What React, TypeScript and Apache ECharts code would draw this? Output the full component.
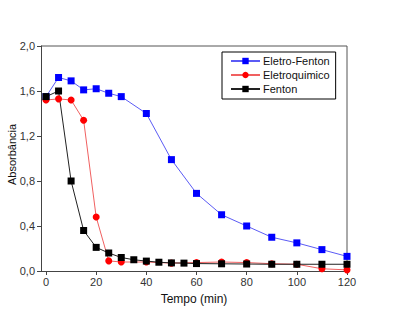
import React, { useEffect, useRef } from "react";
import * as echarts from "echarts";

const timesEF = [0, 5, 10, 15, 20, 25, 30, 40, 50, 60, 70, 80, 90, 100, 110, 120];
const eletroFenton = [1.55, 1.72, 1.69, 1.61, 1.62, 1.58, 1.55, 1.4, 0.99, 0.69, 0.5, 0.4, 0.3, 0.25, 0.19, 0.13];

const timesEQ = [0, 5, 10, 15, 20, 25, 30, 40, 50, 60, 70, 80, 90, 100, 110, 120];
const eletroquimico = [1.52, 1.53, 1.52, 1.34, 0.48, 0.09, 0.08, 0.08, 0.07, 0.075, 0.08, 0.075, 0.065, 0.06, 0.02, 0.01];

const timesF = [0, 5, 10, 15, 20, 25, 30, 35, 40, 45, 50, 55, 60, 70, 80, 90, 100, 110, 120];
const fenton = [1.55, 1.6, 0.8, 0.36, 0.21, 0.16, 0.12, 0.1, 0.088, 0.078, 0.072, 0.07, 0.066, 0.064, 0.062, 0.06, 0.06, 0.06, 0.06];

const xTicks = [0, 20, 40, 60, 80, 100, 120];

const zip = (xs: number[], ys: number[]) => xs.map((x, i) => [x, ys[i]]);

export default function App() {
  const ref = useRef<HTMLDivElement>(null);
  useEffect(() => {
    if (!ref.current) return;
    const chart = echarts.init(ref.current, null, { renderer: "svg" });
    const font = "Liberation Sans, Arial, sans-serif";
    chart.setOption({
      animation: false,
      textStyle: { fontFamily: font },
      grid: { left: 41, right: 49, top: 46, bottom: 60, outerBoundsMode: "none", containLabel: false },
      legend: {
        orient: "vertical",
        left: 222,
        top: 52,
        width: 119,
        padding: [3, 6, 4, 8],
        borderColor: "#000",
        borderWidth: 1,
        itemWidth: 29,
        itemHeight: 8,
        itemGap: 2,
        textStyle: { fontSize: 11, color: "#111", fontFamily: font, fontWeight: "normal", padding: [0, 0, 0, -2], lineHeight: 12 },
        data: ["Eletro-Fenton", "Eletroquimico", "Fenton"],
      },
      xAxis: {
        type: "value",
        min: -2,
        max: 120,
        name: "Tempo (min)",
        nameLocation: "middle",
        nameGap: 22,
        nameMoveOverlap: false,
        nameTextStyle: { fontSize: 12, color: "#111", fontFamily: font, fontWeight: "normal" },
        axisLine: { show: true, onZero: false, lineStyle: { color: "#444", width: 1 } },
        axisTick: { show: true, inside: false, length: 4, customValues: xTicks, lineStyle: { color: "#444" } },
        axisLabel: { fontSize: 11, color: "#333", margin: 5, customValues: xTicks, fontFamily: font },
        splitLine: { show: false },
      },
      yAxis: {
        type: "value",
        min: 0,
        max: 2,
        interval: 0.4,
        name: "Absorbância",
        nameLocation: "middle",
        nameGap: 24,
        nameMoveOverlap: false,
        nameTextStyle: { fontSize: 11, color: "#111", fontFamily: font, fontWeight: "normal", padding: [0, 0, 0, 8] },
        axisLine: { show: true, onZero: false, lineStyle: { color: "#444", width: 1 } },
        axisTick: { show: true, inside: false, length: 4, lineStyle: { color: "#444" } },
        axisLabel: {
          fontSize: 11,
          color: "#333",
          margin: 6,
          fontFamily: font,
          formatter: (v: number) => v.toFixed(1).replace(".", ","),
        },
        splitLine: { show: false },
      },
      graphic: [
        {
          type: "line",
          shape: { x1: 41, y1: 46, x2: 347, y2: 46 },
          style: { stroke: "#555", lineWidth: 1 },
        },
        {
          type: "line",
          shape: { x1: 347, y1: 46, x2: 347, y2: 271 },
          style: { stroke: "#555", lineWidth: 1 },
        },
      ],
      series: [
        {
          name: "Eletro-Fenton",
          type: "line",
          data: zip(timesEF, eletroFenton),
          symbol: "rect",
          symbolSize: 7,
          itemStyle: { color: "#0000ff" },
          lineStyle: { color: "#5b5bf5", width: 1 },
        },
        {
          name: "Eletroquimico",
          type: "line",
          data: zip(timesEQ, eletroquimico),
          symbol: "circle",
          symbolSize: 7,
          itemStyle: { color: "#ff0000" },
          lineStyle: { color: "#f06060", width: 1 },
        },
        {
          name: "Fenton",
          type: "line",
          data: zip(timesF, fenton),
          symbol: "rect",
          symbolSize: 7,
          itemStyle: { color: "#000" },
          lineStyle: { color: "#222", width: 1 },
        },
      ],
    });
    return () => chart.dispose();
  }, []);
  return <div ref={ref} style={{ width: 396, height: 331, position: "absolute", left: 0, top: 0 }} />;
}
